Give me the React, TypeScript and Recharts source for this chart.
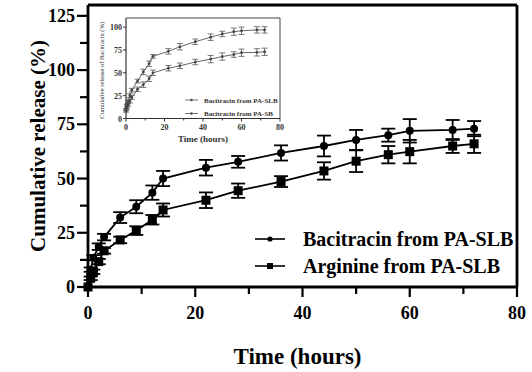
import { ComposedChart, Line, XAxis, YAxis, ErrorBar, ReferenceLine, Label } from 'recharts';

const TIME = [0, 0.5, 1, 2, 3, 6, 9, 12, 14, 22, 28, 36, 44, 50, 56, 60, 68, 72];
const BACITRACIN = [0, 8, 13.5, 18.6, 23, 32, 37, 43.5, 50, 55, 57.7, 61.8, 65, 67.8, 70, 72, 72.4, 73];
const BACITRACIN_ERR = [0, 1, 1.2, 1.5, 1.5, 2.5, 3, 3.3, 3.5, 3.6, 2.7, 3.5, 4.8, 4.6, 3, 5.4, 4.6, 3.5];
const ARGININE = [0, 4, 7, 11.7, 16.7, 21.7, 26, 31, 35.5, 40, 44.4, 48.6, 53.5, 58, 61, 62.4, 65, 66];
const ARGININE_ERR = [0, 0.8, 1, 1.2, 1.3, 1.5, 2, 2.2, 3, 3.6, 3.3, 2.5, 4, 5, 4, 5.4, 3.2, 4.2];

// inset: bacitracin from the two carriers
const INSET_SLB = [8, 12, 15, 19, 23, 32, 37, 43.5, 50, 55, 57.7, 61.8, 65, 67.8, 70, 72, 72.4, 73];
const INSET_SLB_ERR = [1, 1.5, 1.5, 2, 2, 2.5, 3, 3, 3, 3, 3, 3, 4, 4, 3, 4, 4, 4];
const INSET_SB = [10, 14, 18, 25, 31, 41, 51, 60, 68, 73.5, 78.5, 84, 89, 92.5, 95, 96, 97, 97];
const INSET_SB_ERR = [1, 1.5, 2, 2, 2, 2, 3, 3, 2, 3, 3.5, 3, 3.5, 3, 4, 4, 3.5, 3.5];

const X_TICKS = [0, 10, 20, 30, 40, 50, 60, 70, 80];
const Y_TICKS = [0, 12.5, 25, 37.5, 50, 62.5, 75, 87.5, 100, 112.5, 125];
const INSET_Y_TICKS = [0, 25, 50, 75, 100];

const mainData = TIME.map((t, i) => ({
  t,
  bac: BACITRACIN[i],
  bacErr: BACITRACIN_ERR[i],
  arg: ARGININE[i],
  argErr: ARGININE_ERR[i],
}));

const insetData = TIME.map((t, i) => ({
  t,
  slb: INSET_SLB[i],
  slbErr: INSET_SLB_ERR[i],
  sb: INSET_SB[i],
  sbErr: INSET_SB_ERR[i],
}));

const SERIF = "'Liberation Serif', 'Times New Roman', 'DejaVu Serif', serif";
const bold = { fontFamily: SERIF, fontWeight: 700 };
const plain = { fontFamily: SERIF, fontWeight: 400 };

function XTick({ x, y, payload }: any) {
  const major = payload.value % 20 === 0;
  return (
    <g>
      <line x1={x} y1={y} x2={x} y2={y + (major ? 10 : 7)} stroke="#000" strokeWidth={2.2} />
      {major && (
        <text x={x} y={y + 32} textAnchor="middle" style={{ ...bold, fontSize: 18 }} fill="#000">
          {payload.value}
        </text>
      )}
    </g>
  );
}

function YTick({ x, y, payload }: any) {
  const major = payload.value % 25 === 0;
  return (
    <g>
      <line x1={x} y1={y} x2={x - (major ? 11 : 8)} y2={y} stroke="#000" strokeWidth={2.2} />
      {major && (
        <text x={x - 13} y={y + 6} textAnchor="end" style={{ ...bold, fontSize: 18 }} fill="#000">
          {payload.value}
        </text>
      )}
    </g>
  );
}

function InsetXTick({ x, y, payload }: any) {
  const major = payload.value % 20 === 0;
  return (
    <g>
      <line x1={x} y1={y} x2={x} y2={y + (major ? 3 : 2)} stroke="#333" strokeWidth={1} />
      {major && (
        <text x={x} y={y + 11} textAnchor="middle" style={{ ...bold, fontSize: 8 }} fill="#333">
          {payload.value}
        </text>
      )}
    </g>
  );
}

function InsetYTick({ x, y, payload }: any) {
  return (
    <g>
      <line x1={x} y1={y} x2={x - 3} y2={y} stroke="#333" strokeWidth={1} />
      <text x={x - 4} y={y + 3} textAnchor="end" style={{ ...bold, fontSize: 8 }} fill="#333">
        {payload.value}
      </text>
    </g>
  );
}

const circleDot = (p: any) => <circle key={p.index} cx={p.cx} cy={p.cy} r={4} fill="#000" stroke="none" />;
const squareDot = (p: any) => <rect key={p.index} x={p.cx - 4.5} y={p.cy - 4.5} width={9} height={9} fill="#000" />;
const smallDot = (p: any) => <circle key={p.index} cx={p.cx} cy={p.cy} r={1.4} fill="#444" />;

function MainYTitle({ viewBox }: any) {
  const cx = 38;
  const cy = viewBox.y + viewBox.height / 2;
  return (
    <text x={cx} y={cy} transform={`rotate(-90 ${cx} ${cy})`} textAnchor="middle" dominantBaseline="central"
      style={{ ...bold, fontSize: 21 }} fill="#000">
      Cumulative release (%)
    </text>
  );
}

function MainXTitle({ viewBox }: any) {
  const cx = viewBox.x + viewBox.width / 2 - 5;
  return (
    <text x={cx} y={364} textAnchor="middle" style={{ ...bold, fontSize: 23 }} fill="#000">
      Time (hours)
    </text>
  );
}

function InsetYTitle({ viewBox }: any) {
  const cx = 21;
  const cy = viewBox.y + viewBox.height / 2 + 2;
  return (
    <text x={cx} y={cy} transform={`rotate(-90 ${cx} ${cy})`} textAnchor="middle" dominantBaseline="central"
      style={{ ...plain, fontSize: 6.5 }} fill="#333">
      Cumulative release of Bacitracin (%)
    </text>
  );
}

function InsetXTitle({ viewBox }: any) {
  const cx = viewBox.x + viewBox.width / 2;
  return (
    <text x={cx} y={132} textAnchor="middle" style={{ ...bold, fontSize: 9 }} fill="#333">
      Time (hours)
    </text>
  );
}

function MainLegend() {
  const rows = [
    { label: 'Bacitracin from PA-SLB', y: 239, square: false },
    { label: 'Arginine from PA-SLB', y: 266, square: true },
  ];
  return (
    <svg width={532} height={372} style={{ position: 'absolute', left: 0, top: 0, pointerEvents: 'none' }}>
      {rows.map((r) => (
        <g key={r.label}>
          <line x1={255} y1={r.y} x2={285} y2={r.y} stroke="#000" strokeWidth={1.6} />
          {r.square ? (
            <rect x={267} y={r.y - 3} width={6} height={6} fill="#000" />
          ) : (
            <circle cx={270} cy={r.y} r={2.6} fill="#000" />
          )}
          <text x={303} y={r.y + 7} style={{ ...bold, fontSize: 20 }} fill="#000">
            {r.label}
          </text>
        </g>
      ))}
    </svg>
  );
}

function InsetLegend() {
  const rows = [
    { label: 'Bacitracin from PA-SLB', y: 100 },
    { label: 'Bacitracin from PA-SB', y: 113.5 },
  ];
  return (
    <svg width={532} height={372} style={{ position: 'absolute', left: 0, top: 0, pointerEvents: 'none' }}>
      {rows.map((r) => (
        <g key={r.label}>
          <line x1={185} y1={r.y} x2={198} y2={r.y} stroke="#555" strokeWidth={0.8} />
          <circle cx={191.5} cy={r.y} r={1.2} fill="#444" />
          <text x={204} y={r.y + 2.5} style={{ ...bold, fontSize: 7 }} fill="#333">
            {r.label}
          </text>
        </g>
      ))}
    </svg>
  );
}

export default function App() {
  return (
    <div style={{ position: 'absolute', left: 0, top: 0, width: 532, height: 372, background: '#fff' }}>
      <ComposedChart width={532} height={372} data={mainData} margin={{ top: 5, right: 15, left: 0, bottom: 55 }}>
        <XAxis dataKey="t" type="number" domain={[0, 80]} ticks={X_TICKS} height={30} tickSize={0} tickMargin={0}
          tickLine={false} tick={<XTick />} axisLine={{ stroke: '#000', strokeWidth: 2.8 }} interval={0}>
          <Label content={<MainXTitle />} />
        </XAxis>
        <YAxis type="number" domain={[0, 130]} ticks={Y_TICKS} width={88} tickSize={0} tickMargin={0}
          tickLine={false} tick={<YTick />} axisLine={{ stroke: '#000', strokeWidth: 2.8 }} interval={0}>
          <Label content={<MainYTitle />} />
        </YAxis>
        <ReferenceLine y={130} stroke="#000" strokeWidth={2.8} />
        <ReferenceLine x={80} stroke="#000" strokeWidth={2.8} />
        <Line dataKey="bac" stroke="#000" strokeWidth={1.8} dot={circleDot} isAnimationActive={false}>
          <ErrorBar dataKey="bacErr" width={7} stroke="#000" strokeWidth={1.8} direction="y" />
        </Line>
        <Line dataKey="arg" stroke="#000" strokeWidth={1.8} dot={squareDot} isAnimationActive={false}>
          <ErrorBar dataKey="argErr" width={7} stroke="#000" strokeWidth={1.8} direction="y" />
        </Line>
      </ComposedChart>
      <MainLegend />
      <div style={{ position: 'absolute', left: 80, top: 10, width: 210, height: 140 }}>
        <ComposedChart width={210} height={140} data={insetData} margin={{ top: 8, right: 10, left: 0, bottom: 9.5 }}>
          <XAxis dataKey="t" type="number" domain={[0, 80]} ticks={X_TICKS} height={22} tickSize={0} tickMargin={0}
            tickLine={false} tick={<InsetXTick />} axisLine={{ stroke: '#333', strokeWidth: 1.2 }} interval={0}>
            <Label content={<InsetXTitle />} />
          </XAxis>
          <YAxis type="number" domain={[0, 110]} ticks={INSET_Y_TICKS} width={46} tickSize={0} tickMargin={0}
            tickLine={false} tick={<InsetYTick />} axisLine={{ stroke: '#333', strokeWidth: 1.2 }} interval={0}>
            <Label content={<InsetYTitle />} />
          </YAxis>
          <ReferenceLine y={110} stroke="#444" strokeWidth={1} />
          <ReferenceLine x={80} stroke="#444" strokeWidth={1} />
          <Line dataKey="slb" stroke="#555" strokeWidth={0.9} dot={smallDot} isAnimationActive={false}>
            <ErrorBar dataKey="slbErr" width={3} stroke="#555" strokeWidth={0.8} direction="y" />
          </Line>
          <Line dataKey="sb" stroke="#555" strokeWidth={0.9} dot={smallDot} isAnimationActive={false}>
            <ErrorBar dataKey="sbErr" width={3} stroke="#555" strokeWidth={0.8} direction="y" />
          </Line>
        </ComposedChart>
      </div>
      <InsetLegend />
    </div>
  );
}
